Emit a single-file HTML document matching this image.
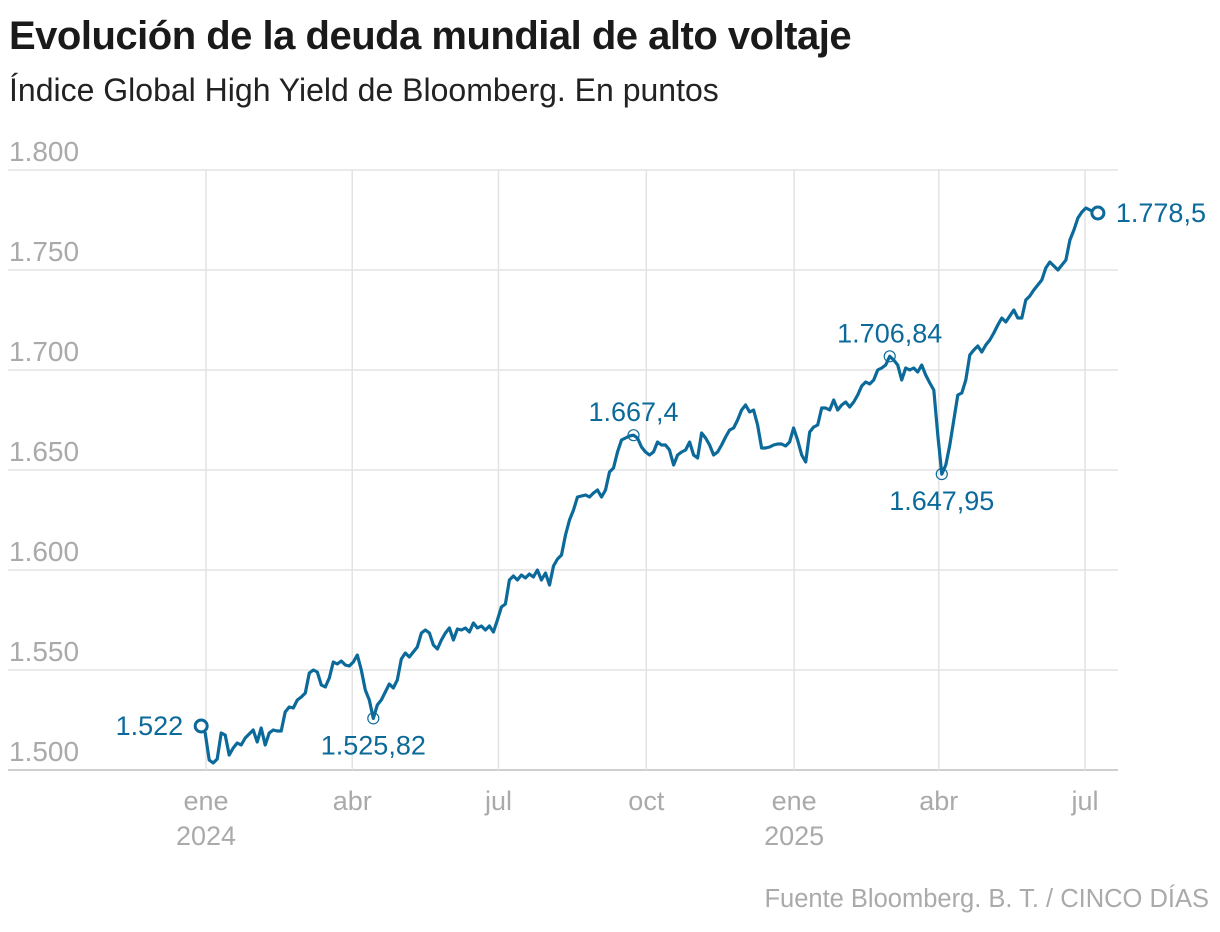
<!DOCTYPE html>
<html><head><meta charset="utf-8">
<style>
body{margin:0;background:#fff;width:1220px;height:932px;overflow:hidden;font-family:"Liberation Sans",sans-serif;}
#title{position:absolute;left:9px;top:14px;font-size:40px;font-weight:bold;color:#1a1a1a;letter-spacing:-0.5px;margin:0}
#sub{position:absolute;left:9px;top:72px;font-size:32px;color:#222;}
#src{position:absolute;right:11px;top:885px;font-size:25.5px;color:#aaa;}
svg{position:absolute;left:0;top:0}
</style></head><body>
<h1 id="title">Evolución de la deuda mundial de alto voltaje</h1>
<div id="sub">Índice Global High Yield de Bloomberg. En puntos</div>
<div id="src">Fuente Bloomberg. B. T. / CINCO DÍAS</div>
<svg id="chart" width="1220" height="932"></svg>
<script>
const yTicks=[1500,1550,1600,1650,1700,1750,1800];
const yTickLabels=["1.500","1.550","1.600","1.650","1.700","1.750","1.800"];
const monthDays=[0,91,182,274,366,456,547];
const monthLabels=["ene","abr","jul","oct","ene","abr","jul"];
const yearLabels=["2024","","","","2025","",""];
const startDay=-3, endDay=555;
const values=[1522,1518.5,1505,1503.5,1505.5,1518.5,1517.5,1507.5,1511,1513.5,1512.5,1516,1518,1520,1514,1521,1512.5,1518.5,1520,1519.5,1519.5,1529,1531.5,1531,1535,1536.5,1538.5,1548.5,1550,1549,1542.5,1541.5,1546,1554,1553,1554.5,1552.5,1552,1554,1557.5,1550,1540,1535,1525.82,1532.5,1535,1539,1543,1541,1545,1555.5,1558.5,1556.5,1559,1561.5,1568.5,1570,1568.5,1562.5,1560.5,1565,1568.5,1571,1565,1570.5,1570,1571,1569,1573.5,1571,1572,1570,1572,1569,1575,1581.5,1583,1595,1597,1595,1597.5,1596,1598,1596.5,1600,1595,1598.5,1592.5,1602,1605.5,1607.5,1617.5,1625,1630,1636.5,1637,1637.5,1636.5,1638.5,1640,1636.5,1640,1649,1651,1659,1665,1666,1667,1667.4,1666,1661.5,1659,1657.5,1659,1664,1662.5,1662.5,1660,1652.5,1657.5,1659,1660,1664,1657.5,1656,1668.5,1666,1662.5,1657.5,1659,1662.5,1666.5,1670,1671,1675,1680,1682.5,1679,1680,1672.5,1661,1661,1661.5,1662.5,1663,1663,1662,1664,1671,1665,1657.5,1654,1669,1671.5,1672.5,1681,1681,1680,1685,1680,1682.5,1684,1681.5,1684,1687.5,1692,1694,1693,1695,1700,1701,1702.5,1706.84,1705,1702.5,1695,1701,1700,1701,1699,1702.5,1697.5,1693.5,1690,1667.5,1647.95,1652.5,1662.5,1675,1687.5,1688.5,1695,1707.5,1710,1712,1709,1712.5,1715,1718.5,1722.5,1726,1724,1727,1730,1726,1726,1735,1737,1740,1742.5,1745,1751,1754,1752,1750,1752.5,1755,1765,1770,1776,1779,1781,1780,1779,1778.5];
const annotValues=[1525.82,1667.4,1706.84,1647.95];
const annotLabels=["1.525,82","1.667,4","1.706,84","1.647,95"];
const annotPos=["below","above","above","below"];

const svg=document.getElementById('chart');
const NS='http://www.w3.org/2000/svg';
const X=d=>206+(d)*1.607;
const Y=v=>770-(v-1500)*2;
const dayOf=i=>startDay+(endDay-startDay)*i/(values.length-1);
function mk(t,a){const e=document.createElementNS(NS,t);for(const k in a)e.setAttribute(k,a[k]);svg.appendChild(e);return e;}
yTicks.forEach((v,i)=>{
 const l=mk('line',{x1:8,x2:1118,y1:Y(v),y2:Y(v),stroke:i==0?'#cfcfcf':'#e3e3e3','stroke-width':i==0?2:1.5});
 
 
 const t=mk('text',{x:9,y:Y(v)-9,'font-size':28,fill:'#aaa'});
 t.textContent=yTickLabels[i];
 
 
});
monthDays.forEach((d,i)=>{
 const l=mk('line',{x1:X(d),x2:X(d),y1:170,y2:770,stroke:'#e3e3e3','stroke-width':1.5});
 
 
 const t=mk('text',{x:X(d),y:810,'font-size':27,fill:'#aaa','text-anchor':'middle'});
 t.textContent=monthLabels[i];
 
 
 if(yearLabels[i]){const y=mk('text',{x:X(d),y:845,'font-size':27,fill:'#aaa','text-anchor':'middle'});
 y.textContent=yearLabels[i];
 
 }
});
const pts=values.map((v,i)=>X(dayOf(i)).toFixed(1)+','+Y(v).toFixed(1)).join(' ');
const line=mk('polyline',{points:pts,fill:'none',stroke:'#0b6a9a','stroke-width':3.2,'stroke-linejoin':'round'});


[[0,'start'],[values.length-1,'end']].forEach(([i,n])=>{
 const c=mk('circle',{cx:X(dayOf(i)),cy:Y(values[i]),r:6,fill:'#fff',stroke:'#0b6a9a','stroke-width':3});
 
 
 const t=mk('text',{x:n=='start'?X(dayOf(i))-18:X(dayOf(i))+18,y:Y(values[i])+9,'font-size':27,fill:'#0b6a9a','text-anchor':n=='start'?'end':'start'});
 t.textContent=n=='start'?'1.522':'1.778,5';
 
 
});
annotValues.forEach((av,k)=>{
 const i=values.indexOf(av);
 const cx=X(dayOf(i)),cy=Y(av);
 const c=mk('circle',{cx:cx,cy:cy,r:5.5,fill:'none',stroke:'#0b6a9a','stroke-width':1.2});
 
 
 const t=mk('text',{x:cx,y:annotPos[k]=='above'?cy-14:cy+36,'font-size':27,fill:'#0b6a9a','text-anchor':'middle'});
 t.textContent=annotLabels[k];
 
 
});
</script>
</body></html>
